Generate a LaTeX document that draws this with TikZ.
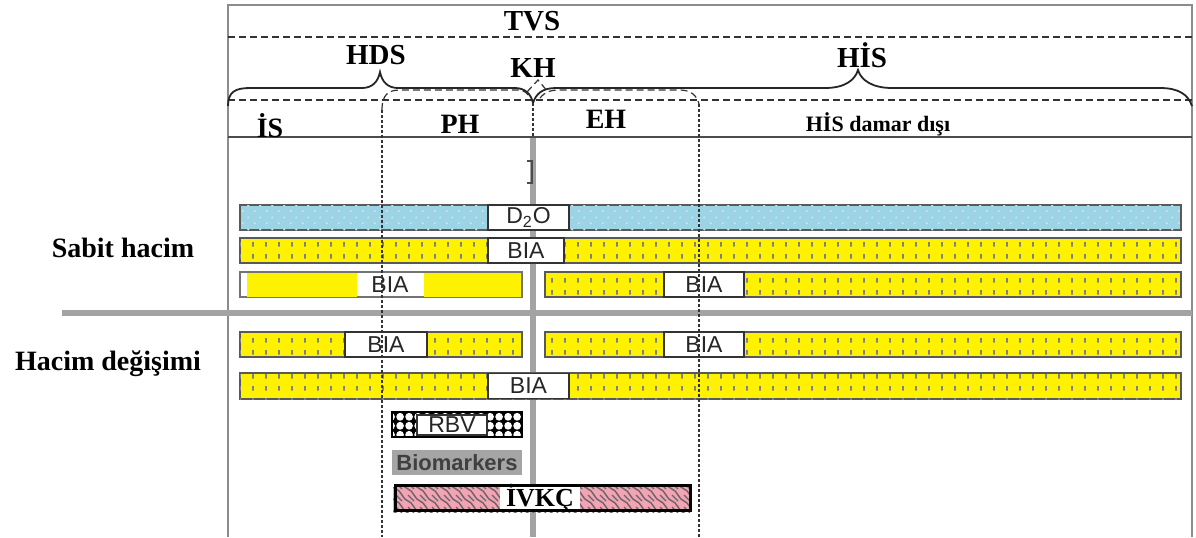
\documentclass[tikz,border=0pt]{standalone}
\usepackage{fontspec}
\setmainfont{Liberation Serif}
\setsansfont{Liberation Sans}
\usetikzlibrary{patterns}

\definecolor{barYellow}{HTML}{FFF200}
\definecolor{barBlue}{HTML}{9BD4E4}
\definecolor{ivkcPink}{HTML}{F4A3B4}
\definecolor{frameGray}{HTML}{8C8C8C}
\definecolor{sepGray}{HTML}{A3A3A3}
\definecolor{markerGray}{HTML}{A5A5A5}

% short ticks in the yellow bars
\pgfdeclarepatternformonly{biaticks}{\pgfqpoint{0pt}{0pt}}{\pgfqpoint{6.5pt}{6pt}}{\pgfqpoint{6.5pt}{6pt}}{%
  \pgfpathrectangle{\pgfqpoint{2.7pt}{1.8pt}}{\pgfqpoint{1pt}{2.4pt}}\pgfusepath{fill}}
% staggered dots in the water bar
\pgfdeclarepatternformonly{waterdots}{\pgfqpoint{0pt}{0pt}}{\pgfqpoint{6pt}{6pt}}{\pgfqpoint{6pt}{6pt}}{%
  \pgfpathcircle{\pgfqpoint{1.5pt}{1.5pt}}{0.6pt}%
  \pgfpathcircle{\pgfqpoint{4.5pt}{4.5pt}}{0.6pt}\pgfusepath{fill}}
% round knots for RBV
\pgfdeclarepatternformonly{rbvknots}{\pgfqpoint{0pt}{0pt}}{\pgfqpoint{4.5pt}{4.5pt}}{\pgfqpoint{4.5pt}{4.5pt}}{%
  \pgfpathcircle{\pgfqpoint{2.25pt}{2.25pt}}{2.1pt}\pgfusepath{fill}}
% braid for IVKC
\pgfdeclarepatternformonly{ivkcbraid}{\pgfqpoint{-1pt}{-1pt}}{\pgfqpoint{7pt}{7pt}}{\pgfqpoint{6pt}{6pt}}{%
  \pgfsetlinewidth{0.7pt}%
  \pgfpathmoveto{\pgfqpoint{0pt}{6pt}}%
  \pgfpathcurveto{\pgfqpoint{2.5pt}{5.5pt}}{\pgfqpoint{3.5pt}{0.5pt}}{\pgfqpoint{6pt}{0pt}}%
  \pgfpathmoveto{\pgfqpoint{0pt}{3pt}}%
  \pgfpathlineto{\pgfqpoint{3pt}{0pt}}%
  \pgfusepath{stroke}}

\begin{document}
\begin{tikzpicture}[
        x=0.5pt, y=-0.5pt,
        frameline/.style={draw=frameGray, line width=1pt},
        sepline/.style={draw=sepGray, line width=2.6pt},
        zonedash/.style={dash pattern=on 3.5pt off 2pt, line width=0.6pt, black!80},
        bounddash/.style={dash pattern=on 1.6pt off 0.9pt, line width=0.6pt, black!80},
        yellowbar/.style={draw=black!65, line width=0.7pt, fill=barYellow,
            postaction={pattern=biaticks, pattern color=black!50}},
        bluebar/.style={draw=black!65, line width=0.7pt, fill=barBlue,
            postaction={pattern=waterdots, pattern color=gray!25}},
        labelbox/.style={draw=black!80, fill=white, line width=0.6pt, inner sep=0pt,
            minimum height=12.5pt, text=black!85,
            font=\sffamily\fontsize{11.5}{11.5}\selectfont},
        toplabel/.style={inner sep=0pt, font=\bfseries\fontsize{14.5}{14.5}\selectfont},
        zonelabel/.style={inner sep=0pt, font=\bfseries\fontsize{14}{14}\selectfont},
        sidelabel/.style={inner sep=0pt, font=\bfseries\fontsize{14}{14}\selectfont}
    ]
    \useasboundingbox (0,0) rectangle (1196,537);

    % Frame and header lines
    \draw[frameline] (228,537) -- (228,5) -- (1192,5) -- (1192,537);
    \draw[zonedash] (228,37) -- (1192,37);
    \draw[zonedash] (228,100) -- (1192,100);
    \draw[draw=black!70, line width=0.8pt] (228,137) -- (1192,137);

    % Braces
    \draw[line width=0.9pt, black!85] (228,106) .. controls (228,92) and (235,88) .. (250,88)
        -- (362,88) .. controls (372,88) and (378,82) .. (380,72)
        .. controls (382,82) and (388,88) .. (398,88)
        -- (515,88) .. controls (525,88) and (531,94) .. (533,103);
    \draw[line width=0.9pt, black!85] (533,103) .. controls (536,94) and (542,88) .. (556,88)
        -- (825,88) .. controls (845,88) and (855,80) .. (858,70)
        .. controls (861,80) and (872,88) .. (892,88)
        -- (1160,88) .. controls (1178,88) and (1188,94) .. (1192,106);

    % Plasma and extravascular zones
    \draw[zonedash] (382,110) .. controls (382,95) and (388,90) .. (400,90)
        -- (518,90) .. controls (525,90) and (528,94) .. (530,98);
    \draw[zonedash] (527,92) -- (538,80) -- (548,92);
    \draw[zonedash] (540,98) .. controls (545,92) and (550,90) .. (560,90)
        -- (680,90) .. controls (690,90) and (697,95) .. (699,104);

    % Header texts
    \node[toplabel] (tvs) at (532,21) {TVS};
    \node[toplabel] (hds) at (376,55) {HDS};
    \node[toplabel] (kh) at (533,68) {KH};
    \node[toplabel] (his) at (862,55) {HİS};
    \node[zonelabel] (is) at (270,126) {İS};
    \node[zonelabel] (ph) at (460,124) {PH};
    \node[zonelabel] (eh) at (606,119) {EH};
    \node[zonelabel, font=\bfseries\fontsize{11}{11}\selectfont] (hisout) at (878,124) {HİS damar dışı};

    % Row separators
    \draw[bounddash] (533,103) -- (533,138);
    \draw[sepline] (533,138) -- (533,537);
    \draw[sepline] (62,313) -- (1192,313);
    \draw[draw=black!70, line width=0.8pt] (527,161) -- (532,161) -- (532,183) -- (527,183);

    % Side texts
    \node[sidelabel] (sabit) at (123,248) {Sabit hacim};
    \node[sidelabel] (degisim) at (108,364) {Hacim değişimi};

    % Sabit hacim bars
    \draw[bluebar] (240,205) rectangle (1181,230);
    \node[labelbox, minimum width=40.5pt] (d2o) at (528.5,217.5) {D\textsubscript{2}O};
    \draw[yellowbar] (240,238) rectangle (1181,263);
    \node[labelbox, minimum width=38pt] (bia1) at (526,250.5) {BIA};
    \draw[draw=black!55, line width=0.7pt, fill=white] (240,272) rectangle (522,297);
    \fill[barYellow] (247,273) rectangle (357,296.5);
    \fill[barYellow] (424,273) rectangle (521,296.5);
    \node[labelbox, draw=none, fill=none] (bia2) at (390,285) {BIA};
    \draw[yellowbar] (545,272) rectangle (1181,297);
    \node[labelbox, minimum width=40pt] (bia3) at (704,284.5) {BIA};

    % Hacim degisimi bars
    \draw[yellowbar] (240,332) rectangle (522,357);
    \node[labelbox, minimum width=41pt] (bia4) at (386,344.5) {BIA};
    \draw[yellowbar] (545,332) rectangle (1181,357);
    \node[labelbox, minimum width=40pt] (bia5) at (704,344.5) {BIA};
    \draw[yellowbar] (240,373) rectangle (1181,399);
    \node[labelbox, minimum width=40.5pt] (bia6) at (528.5,386) {BIA};

    % RBV, biomarkers and IVKC
    \fill[black, postaction={pattern=rbvknots, pattern color=white}] (392,412) rectangle (522,437);
    \draw[black, line width=0.8pt] (392,412) rectangle (522,437);
    \node[labelbox, minimum width=35pt, minimum height=10pt] (rbv) at (452,425) {RBV};
    \node[fill=markerGray, minimum width=65pt, minimum height=12.5pt, inner sep=0pt,
        text=black!75, font=\sffamily\bfseries\fontsize{11}{11}\selectfont] (bio) at (457,462.5) {Biomarkers};
    \fill[ivkcPink, postaction={pattern=ivkcbraid, pattern color=black!60}] (393,487) rectangle (690,512);
    \node[fill=white, minimum width=40pt, minimum height=11pt, inner sep=0pt,
        font=\bfseries\fontsize{13}{13}\selectfont] (ivkc) at (540,498) {İVKÇ};
    \draw[black, line width=1.5pt] (395,485) rectangle (690,510);

    % Zone boundaries over the bars
    \draw[bounddash] (382,110) -- (382,537);
    \draw[bounddash] (699,104) -- (699,537);
\end{tikzpicture}
\end{document}
